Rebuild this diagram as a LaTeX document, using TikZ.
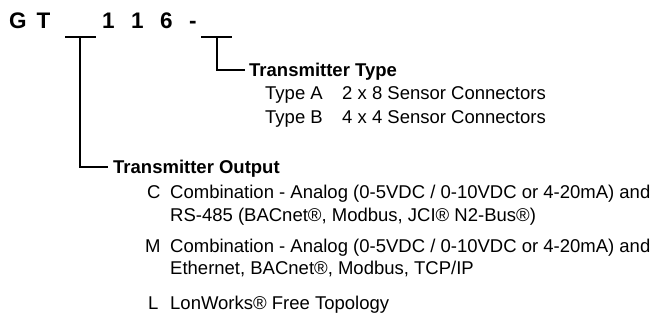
\documentclass[tikz,border=0pt]{standalone}
\usepackage{fontspec}
\setmainfont{Liberation Sans}
\begin{document}
\begin{tikzpicture}[x=1pt,y=-1pt,
  txt/.style={anchor=base west,inner sep=0pt,font=\fontsize{18.5}{22}\selectfont},
  hd/.style={anchor=base west,inner sep=0pt,font=\fontsize{18.5}{22}\selectfont\bfseries},
  ttl/.style={anchor=base west,inner sep=0pt,font=\fontsize{22.5}{26}\selectfont\bfseries},
  ln/.style={line width=1.3pt,line cap=butt}]
\useasboundingbox (0,0) rectangle (658,331);
% title characters
\node[ttl] (tG) at (9,29) {G};
\node[ttl] (tT) at (36.5,29) {T};
\node[ttl] (t1) at (102,29) {1};
\node[ttl] (t2) at (131,29) {1};
\node[ttl] (t6) at (160,29) {6};
\node[ttl] (td) at (189,29) {-};
% blanks
\coordinate (uaL) at (65,37); \coordinate (uaR) at (96,37); \coordinate (uaM) at (80,37);
\coordinate (ubL) at (201,37); \coordinate (ubR) at (232,37); \coordinate (ubM) at (217,37);
\draw[ln] (uaL) -- (uaR);
\draw[ln] (ubL) -- (ubR);
% transmitter type
\node[hd] (ttype) at (249,77) {Transmitter Type};
\coordinate (eb) at (245,70);
\draw[ln] (ubM) |- (eb);
\node[txt] (ta) at (265,100) {Type A};
\node[txt] (tad) at (342,100) {2 x 8 Sensor Connectors};
\node[txt] (tb) at (265,124) {Type B};
\node[txt] (tbd) at (342,124) {4 x 4 Sensor Connectors};
% transmitter output
\node[hd] (tout) at (113,174) {Transmitter Output};
\coordinate (ea) at (108,167);
\draw[ln] (uaM) |- (ea);
\node[txt] (oc) at (147,198) {C};
\node[txt] (ocd) at (170,198) {Combination - Analog (0-5VDC / 0-10VDC or 4-20mA) and};
\node[txt] (ocd2) at (170,221) {RS-485 (BACnet®, Modbus, JCI® N2-Bus®)};
\node[txt] (om) at (145,252) {M};
\node[txt] (omd) at (170,252) {Combination - Analog (0-5VDC / 0-10VDC or 4-20mA) and};
\node[txt] (omd2) at (170,274) {Ethernet, BACnet®, Modbus, TCP/IP};
\node[txt] (ol) at (148,309) {L};
\node[txt] (old) at (170,309) {LonWorks® Free Topology};
\end{tikzpicture}
\end{document}
